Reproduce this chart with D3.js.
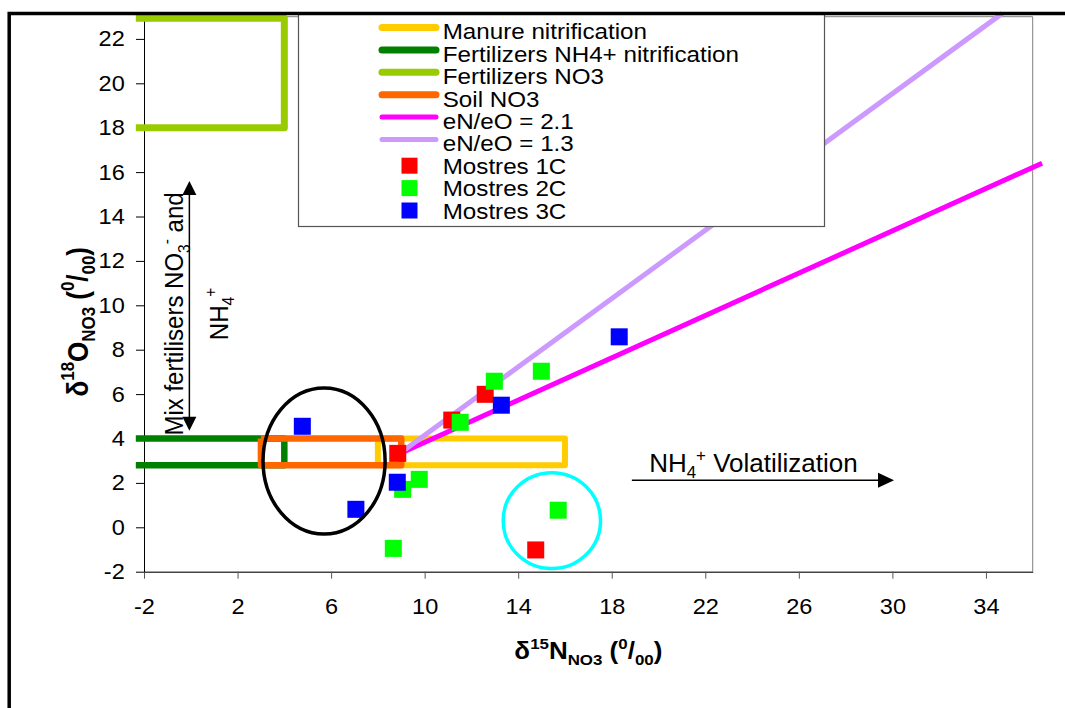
<!DOCTYPE html>
<meta charset="utf-8">
<script src="https://cdn.jsdelivr.net/npm/d3@7"></script>
<style>
body { margin: 0; background: #fff; }
text { font-family: "Liberation Sans", Arial, sans-serif; fill: #000; white-space: pre; }
</style>
<body>
<script>

// data
var xTicks = [-2, 2, 6, 10, 14, 18, 22, 26, 30, 34];
var yTicks = [-2, 0, 2, 4, 6, 8, 10, 12, 14, 16, 18, 20, 22];

var manureBox = [[8, 4], [16, 4], [16, 2.8], [8, 2.8], [8, 4]];
var fertNH4Box = [[-2.35, 4], [4, 4], [4, 2.8], [-2.35, 2.8]];
var fertNO3Box = [[-2.35, 22.93], [4, 22.93], [4, 18], [-2.35, 18]];
var soilBox = [[3, 4], [9, 4], [9, 2.8], [3, 2.8], [3, 4]];

var line21 = [[8.9, 3.3], [36.4, 16.4]];
var line13 = [[8.9, 3.3], [34.7, 23.15]];

var mostres1C = [[8.85, 3.33], [11.16, 4.83], [12.59, 5.99], [14.75, -1.02]];
var mostres2C = [[11.52, 4.73], [12.98, 6.58], [14.99, 7.03], [9.06, 1.71], [9.77, 2.16], [8.66, -0.95], [15.71, 0.77]];
var mostres3C = [[4.77, 4.55], [7.06, 0.81], [8.83, 2.03], [13.28, 5.5], [18.32, 8.58]];

var legendLabels = ["Manure nitrification", "Fertilizers NH4+ nitrification", "Fertilizers NO3", "Soil NO3",
                    "eN/eO = 2.1", "eN/eO = 1.3", "Mostres 1C", "Mostres 2C", "Mostres 3C"];

var width = 1065, height = 708;

var svg = d3.select("body").append("svg")
    .attr("width", width)
    .attr("height", height);

svg.append("rect").attr("width", width).attr("height", height).attr("fill", "#fff");

var x = d3.scaleLinear().domain([-2, 36]).range([144, 1032.7]);
var y = d3.scaleLinear().domain([-2, 23]).range([571.7, 16.7]);

// text with sub / superscripts, horizontally stretched like the original
function rich(g, parts, size, px, py, sx, rot, anchor, bold) {
  var t = g.append("text")
      .attr("transform", "translate(" + px + "," + py + ") scale(" + sx + ",1)" + (rot ? " rotate(-90)" : ""))
      .attr("text-anchor", anchor || "start")
      .attr("font-size", size)
      .attr("font-weight", bold ? "bold" : "normal");
  var cur = 0;
  parts.forEach(function(p) {
    var shift = p.sup ? -0.45 * size : (p.sub ? 0.25 * size : 0);
    t.append("tspan")
        .attr("font-size", (p.sup || p.sub) ? size * 0.65 : size)
        .attr("dy", shift - cur)
        .text(p.t);
    cur = shift;
  });
  return t;
}

// plot frame top / right
svg.append("path")
    .attr("d", "M" + x(-2) + "," + y(23) + "H" + x(36) + "V" + y(-2))
    .attr("fill", "none")
    .attr("stroke", "#808080")
    .attr("stroke-width", 1);

// axes
var gx = svg.append("g")
    .attr("transform", "translate(0," + y(-2) + ")")
    .call(d3.axisBottom(x).tickValues(xTicks).tickSize(7).tickSizeOuter(0).tickPadding(20)
      .tickFormat(function(d) { return String(d); }));
gx.select(".domain").attr("stroke", "#444").attr("stroke-width", 1.5);
gx.selectAll(".tick line").attr("stroke", "#555");
gx.selectAll("text").attr("font-size", 22).attr("font-family", "Liberation Sans, Arial, sans-serif")
    .attr("transform", "scale(1.07,1)");

var gy = svg.append("g")
    .attr("transform", "translate(" + x(-2) + ",0)")
    .call(d3.axisLeft(y).tickValues(yTicks).tickSize(8).tickSizeOuter(0).tickPadding(10)
      .tickFormat(function(d) { return String(d); }));
gy.select(".domain").attr("stroke", "#000");
gy.selectAll(".tick line").attr("stroke", "#000");
gy.selectAll("text").attr("font-size", 22).attr("font-family", "Liberation Sans, Arial, sans-serif")
    .attr("x", -18).attr("transform", "scale(1.07,1)");

// source boxes
var line = d3.line().x(function(d) { return x(d[0]); }).y(function(d) { return y(d[1]); });

var boxes = [
  {d: manureBox, c: "#FFCC00", w: 6},
  {d: fertNH4Box, c: "#008000", w: 6.5},
  {d: fertNO3Box, c: "#99CC00", w: 7},
  {d: soilBox, c: "#FF6600", w: 6.5}
];
svg.append("g").selectAll("path")
    .data(boxes)
    .enter().append("path")
    .attr("d", function(b) { return line(b.d); })
    .attr("fill", "none")
    .attr("stroke", function(b) { return b.c; })
    .attr("stroke-width", function(b) { return b.w; })
    .attr("stroke-linejoin", "round");

// denitrification lines
svg.append("g").selectAll("path")
    .data([{d: line21, c: "#FF00FF"}, {d: line13, c: "#CC99FF"}])
    .enter().append("path")
    .attr("d", function(l) { return line(l.d); })
    .attr("fill", "none")
    .attr("stroke", function(l) { return l.c; })
    .attr("stroke-width", 5);

// samples
var sq = 17;
[[mostres1C, "#FF0000"], [mostres2C, "#00FF00"], [mostres3C, "#0000FF"]].forEach(function(s) {
  svg.append("g").selectAll("rect")
      .data(s[0])
      .enter().append("rect")
      .attr("x", function(d) { return x(d[0]) - sq / 2; })
      .attr("y", function(d) { return y(d[1]) - sq / 2; })
      .attr("width", sq)
      .attr("height", sq)
      .attr("fill", s[1]);
});

// legend
var legend = svg.append("g");
legend.append("rect")
    .attr("x", 298.5).attr("y", 13.5)
    .attr("width", 526).attr("height", 213)
    .attr("fill", "#fff")
    .attr("stroke", "#555")
    .attr("stroke-width", 1.2);

var legendStyle = [
  {c: "#FFCC00", t: "line", w: 7}, {c: "#008000", t: "line", w: 7}, {c: "#99CC00", t: "line", w: 7},
  {c: "#FF6600", t: "line", w: 7}, {c: "#FF00FF", t: "line", w: 5}, {c: "#CC99FF", t: "line", w: 5},
  {c: "#FF0000", t: "sq"}, {c: "#00FF00", t: "sq"}, {c: "#0000FF", t: "sq"}
];
legendLabels.forEach(function(lab, i) {
  var base = 39.3 + i * 22.4;
  var st = legendStyle[i];
  if (st.t == "line") {
    legend.append("line")
        .attr("x1", 382).attr("x2", 436)
        .attr("y1", base - 11.8).attr("y2", base - 11.8)
        .attr("stroke", st.c)
        .attr("stroke-width", st.w)
        .attr("stroke-linecap", "round");
  } else {
    legend.append("rect")
        .attr("x", 401.5).attr("y", base - 16)
        .attr("width", 16).attr("height", 16)
        .attr("fill", st.c);
  }
  rich(legend, [{t: lab}], 22, 442.7, base, 1.1);
});

// circled groups
svg.append("ellipse")
    .attr("cx", x(5.7)).attr("cy", y(2.99))
    .attr("rx", x(5.7 + 2.61) - x(5.7)).attr("ry", y(2.99) - y(2.99 + 3.29))
    .attr("fill", "none").attr("stroke", "#000").attr("stroke-width", 3.5);
svg.append("ellipse")
    .attr("cx", x(15.44)).attr("cy", y(0.3))
    .attr("rx", x(15.44 + 2.08) - x(15.44)).attr("ry", y(0.3) - y(0.3 + 2.16))
    .attr("fill", "none").attr("stroke", "#00FFFF").attr("stroke-width", 3.5);

// arrows
var ax = x(-0.06), ay0 = y(15.6), ay1 = y(4.35);
svg.append("line").attr("x1", ax).attr("x2", ax).attr("y1", ay0 + 10).attr("y2", ay1 - 10)
    .attr("stroke", "#000").attr("stroke-width", 1.5);
svg.append("path").attr("d", "M" + ax + "," + ay0 + "l7,14h-14z").attr("fill", "#000");
svg.append("path").attr("d", "M" + ax + "," + ay1 + "l7,-14h-14z").attr("fill", "#000");

var hx0 = x(18.86), hx1 = x(30.07), hy = y(2.12);
svg.append("line").attr("x1", hx0).attr("x2", hx1 - 10).attr("y1", hy).attr("y2", hy)
    .attr("stroke", "#000").attr("stroke-width", 1.5);
svg.append("path").attr("d", "M" + hx1 + "," + hy + "l-16,-7.5v15z").attr("fill", "#000");

// annotation texts
rich(svg, [{t: "Mix fertilisers NO"}, {t: "3", sub: true}, {t: "-", sup: true}, {t: " and"}],
     24, x(-0.32), y(9.61), 1.07, true, "middle");
rich(svg, [{t: "NH"}, {t: "4", sub: true}, {t: "+", sup: true}],
     24, x(1.59), y(9.61), 1.07, true, "middle");
rich(svg, [{t: "NH"}, {t: "4", sub: true}, {t: "+", sup: true}, {t: " Volatilization"}],
     25, x(19.6), y(2.5), 1.04);

// axis titles
rich(svg, [{t: "δ"}, {t: "15", sup: true}, {t: "N"}, {t: "NO3", sub: true}, {t: " ("}, {t: "0", sup: true},
           {t: "/"}, {t: "00", sub: true}, {t: ")"}],
     23, (x(-2) + x(36)) / 2, 659, 1.13, false, "middle", true);
rich(svg, [{t: "δ"}, {t: "18", sup: true}, {t: "O"}, {t: "NO3", sub: true}, {t: " ("}, {t: "0", sup: true},
           {t: "/"}, {t: "00", sub: true}, {t: ")"}],
     26, 87.5, 321.7, 1.13, true, "middle", true);

// outer chart border
svg.append("rect")
    .attr("x", 9.2).attr("y", 13.5)
    .attr("width", 1200).attr("height", 900)
    .attr("fill", "none")
    .attr("stroke", "#000")
    .attr("stroke-width", 3.5);

</script>
</body>
